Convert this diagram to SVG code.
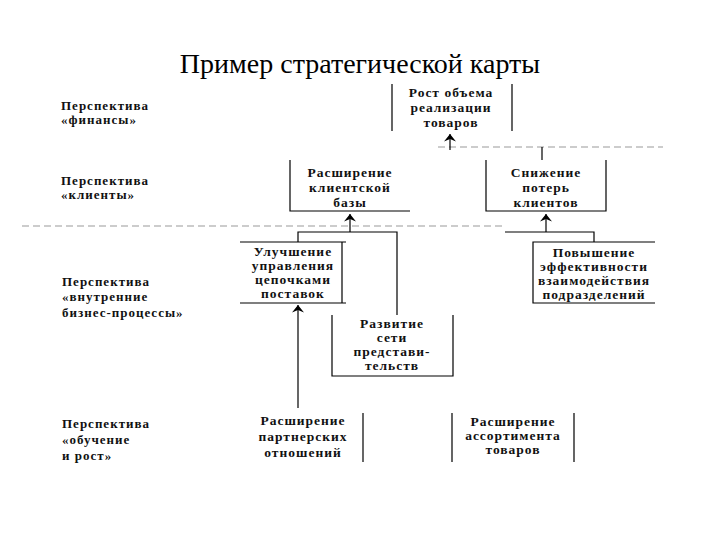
<svg xmlns="http://www.w3.org/2000/svg" width="720" height="540" viewBox="0 0 720 540">
<style>
.t{font-family:"Liberation Serif","Times New Roman",serif;font-weight:bold;font-size:13px;fill:#111;letter-spacing:1px}
.n{font-family:"Liberation Serif","Times New Roman",serif;font-weight:bold;font-size:13.5px;fill:#111;letter-spacing:1px;text-anchor:middle}
.title{font-family:"Liberation Serif","Times New Roman",serif;font-size:28px;fill:#000;text-anchor:middle}
.b{fill:none;stroke:#000;stroke-width:1.2}
.d{fill:none;stroke:#999;stroke-width:1;stroke-dasharray:7 4}
.k{fill:none;stroke:#000;stroke-width:1.2}
</style>
<defs>
<marker id="ah" viewBox="-7 -1 14 10" refX="0" refY="0" markerWidth="14" markerHeight="10" markerUnits="userSpaceOnUse" orient="0">
<polygon points="0,0 6,7.5 0,5 -6,7.5" fill="#000"/>
</marker>
</defs>
<rect width="720" height="540" fill="#fff"/>
<text class="title" x="360" y="73">Пример стратегической карты</text>

<g id="perspectives">
<text class="t" x="61" y="110">Перспектива</text>
<text class="t" x="61" y="124">«финансы»</text>
<text class="t" x="61" y="185">Перспектива</text>
<text class="t" x="61" y="199">«клиенты»</text>
<text class="t" x="62" y="286">Перспектива</text>
<text class="t" x="62" y="301">«внутренние</text>
<text class="t" x="62" y="317">бизнес-процессы»</text>
<text class="t" x="62" y="428">Перспектива</text>
<text class="t" x="62" y="444">«обучение</text>
<text class="t" x="62" y="460">и рост»</text>
</g>

<g id="separators">
<line class="d" x1="438" y1="147" x2="663" y2="147"/>
<line class="d" x1="22" y1="226" x2="505" y2="226"/>
</g>

<g id="node-rost">
<path class="b" d="M392,84V131M512,84V131"/>
<text class="n" x="451" y="97">Рост  объема</text>
<text class="n" x="451" y="112">реализации</text>
<text class="n" x="451" y="127">товаров</text>
</g>

<g id="node-klient-baza">
<path class="b" d="M290,160V211H410"/>
<text class="n" x="350" y="177">Расширение</text>
<text class="n" x="350" y="192">клиентской</text>
<text class="n" x="350" y="207">базы</text>
</g>

<g id="node-snizhenie">
<path class="b" d="M486,160V211H606V160"/>
<text class="n" x="546" y="177">Снижение</text>
<text class="n" x="546" y="192">потерь</text>
<text class="n" x="546" y="207">клиентов</text>
</g>

<g id="node-uluchshenie">
<path class="b" d="M240,242H346M342,242V303M240,303H346"/>
<text class="n" x="293" y="256">Улучшение</text>
<text class="n" x="293" y="270">управления</text>
<text class="n" x="293" y="284">цепочками</text>
<text class="n" x="293" y="298">поставок</text>
</g>

<g id="node-povyshenie">
<path class="b" d="M655,242H533V303H655"/>
<text class="n" x="594" y="257">Повышение</text>
<text class="n" x="594" y="271">эффективности</text>
<text class="n" x="594" y="285">взаимодействия</text>
<text class="n" x="594" y="299">подразделений</text>
</g>

<g id="node-razvitie">
<path class="b" d="M332,315V376H453V315"/>
<text class="n" x="392" y="328">Развитие</text>
<text class="n" x="392" y="342">сети</text>
<text class="n" x="392" y="356">представи-</text>
<text class="n" x="392" y="370">тельств</text>
</g>

<g id="node-partner">
<path class="b" d="M363,413V462"/>
<text class="n" x="303" y="425">Расширение</text>
<text class="n" x="303" y="441">партнерских</text>
<text class="n" x="303" y="457">отношений</text>
</g>

<g id="node-assortiment">
<path class="b" d="M452,413V462M574,413V462"/>
<text class="n" x="513" y="426">Расширение</text>
<text class="n" x="513" y="440">ассортимента</text>
<text class="n" x="513" y="454">товаров</text>
</g>

<g id="connectors">
<path class="k" d="M542,160V147"/>
<path class="k" d="M450,150V134" marker-end="url(#ah)"/>
<path class="k" d="M298,242V232H397V315"/>
<path class="k" d="M350,232V214" marker-end="url(#ah)"/>
<path class="k" d="M505,232H594V242"/>
<path class="k" d="M546,232V214" marker-end="url(#ah)"/>
<path class="k" d="M298,408V305" marker-end="url(#ah)"/>
</g>
</svg>
